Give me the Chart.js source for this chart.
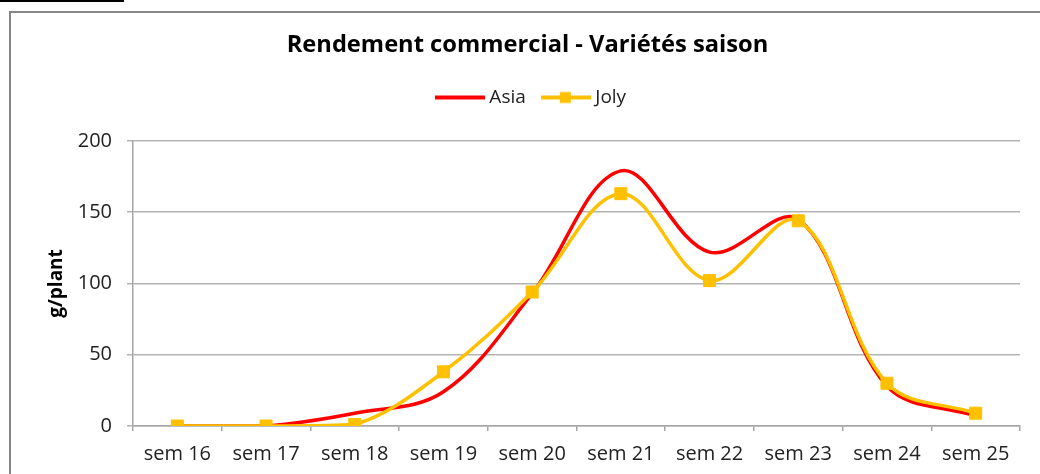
<!DOCTYPE html>
<html>
<head>
<meta charset="utf-8">
<script src="https://cdn.jsdelivr.net/npm/chart.js@4"></script>
<style>
  html, body { margin: 0; padding: 0; background: #fff; }
  #wrap { position: relative; width: 1040px; height: 474px; overflow: hidden; background: #fff; }
  #frame { position: absolute; left: 9px; top: 11px; width: 1200px; height: 700px;
           border-left: 2px solid #868686; border-top: 2px solid #868686; }
  #mark { position: absolute; left: 0; top: 0; width: 124px; height: 2px; background: #000; }
  canvas { position: absolute; left: 0; top: 0; }
</style>
</head>
<body>
<div id="wrap">
  <div id="frame"></div>
  <div id="mark"></div>
  <canvas id="c" width="1040" height="474"></canvas>
</div>
<script>
const categories = ['sem 16', 'sem 17', 'sem 18', 'sem 19', 'sem 20', 'sem 21', 'sem 22', 'sem 23', 'sem 24', 'sem 25'];
const asiaValues = [0, 0, 9, 24, 93, 179, 122, 145, 28, 7];
const jolyValues = [0, 0, 1, 38, 94, 163, 102, 144, 30, 9];
const yTicks = [0, 50, 100, 150, 200];

const RED = '#FF0000';
const GOLD = '#FFC000';

function legendImage(color, withSquare) {
  const c = document.createElement('canvas');
  c.width = 50; c.height = 14;
  const g = c.getContext('2d');
  g.fillStyle = color;
  g.fillRect(0, 5, 50, 4);
  if (withSquare) g.fillRect(19, 1.5, 11, 11);
  return c;
}
const asiaImg = legendImage(RED, false);
const jolyImg = legendImage(GOLD, true);

const FONT = "'Open Sans', 'Noto Sans', sans-serif";

// shifts the title and legend blocks so they centre on the outer frame like the original
const centerShift = {
  id: 'centerShift',
  afterLayout(chart) {
    if (chart.titleBlock) chart.titleBlock.left = 35;
    if (chart.legend) chart.legend.left = 46;
  }
};

new Chart(document.getElementById('c'), {
  type: 'line',
  data: {
    labels: categories,
    datasets: [
      { label: 'Asia', data: asiaValues, borderColor: RED, backgroundColor: RED,
        borderWidth: 3.5, pointRadius: 0, pointHoverRadius: 0, tension: 0.36, order: 1, fill: false },
      { label: 'Joly', data: jolyValues, borderColor: GOLD, backgroundColor: GOLD,
        borderWidth: 3.5, pointStyle: 'rect', pointRadius: 8.5, pointBorderWidth: 1,
        pointBorderColor: GOLD, pointBackgroundColor: GOLD, tension: 0.36, order: 0, fill: false }
    ]
  },
  plugins: [centerShift],
  options: {
    responsive: false,
    devicePixelRatio: 1,
    animation: false,
    events: [],
    layout: { padding: { left: 0, right: 20, top: 0, bottom: 0 } },
    plugins: {
      title: {
        display: true,
        text: 'Rendement commercial - Variétés saison',
        color: '#000',
        font: { family: FONT, size: 23.7, weight: 'bold', lineHeight: 1.2 },
        padding: { top: 30.8, bottom: 8.7 }
      },
      subtitle: {
        display: true, text: '', weight: 500,
        font: { size: 10, lineHeight: 1 },
        padding: { top: 0, bottom: 14.0 }
      },
      legend: {
        display: true,
        position: 'top',
        labels: {
          usePointStyle: true,
          pointStyleWidth: 40,
          padding: 20,
          color: '#222',
          font: { family: FONT, size: 19 },
          sort: (a, b) => a.datasetIndex - b.datasetIndex,
          generateLabels(chart) {
            const items = Chart.defaults.plugins.legend.labels.generateLabels(chart);
            items.forEach(it => { it.pointStyle = it.datasetIndex === 0 ? asiaImg : jolyImg; });
            return items;
          }
        }
      },
      tooltip: { enabled: false }
    },
    scales: {
      x: {
        type: 'category',
        offset: true,
        grid: { display: true, offset: true, drawOnChartArea: false, drawTicks: true,
                tickLength: 5, color: '#a6a6a6', lineWidth: 1.5 },
        border: { display: true, color: '#a6a6a6', width: 1.5 },
        ticks: { color: '#222', padding: 11, maxRotation: 0, autoSkip: false,
                 font: { family: FONT, size: 20 } },
        afterFit(scale) { scale.height = 48; }
      },
      y: {
        min: 0, max: 200,
        afterBuildTicks(scale) { scale.ticks = yTicks.map(v => ({ value: v })); },
        grid: { color: '#b3b3b3', lineWidth: 1.5, drawTicks: true, tickLength: 6 },
        border: { display: true, color: '#a6a6a6', width: 1.5 },
        ticks: { color: '#222', padding: 15, font: { family: FONT, size: 20 } },
        title: {
          display: true, text: 'g/plant', color: '#000',
          font: { family: FONT, size: 19, weight: 'bold', lineHeight: 1.2 },
          padding: { top: 45, bottom: 0 }
        },
        afterFit(scale) { scale.width = 133; }
      }
    }
  }
});
</script>
</body>
</html>
